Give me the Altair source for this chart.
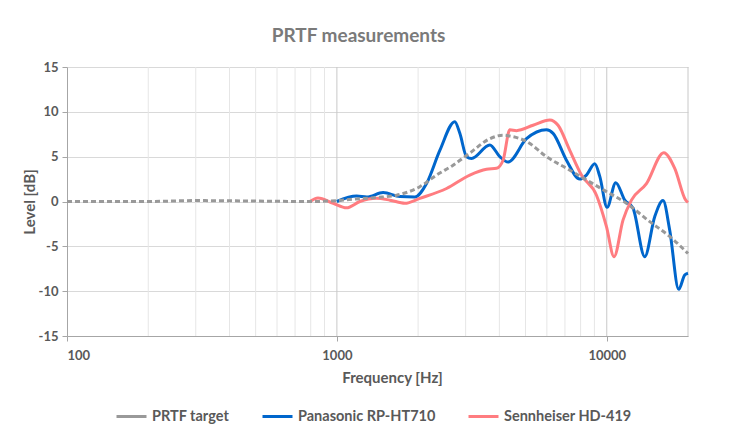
import altair as alt
import pandas as pd

# ---- data ----
target_freq = [100, 200, 300, 500, 800, 1000, 1150, 1400, 1664, 2029, 2341, 2696, 3109, 3687,
               4129, 4373, 5042, 5979, 7091, 8409, 9975, 11830, 14430, 17113, 20000]
target_db = [0.0, 0.0, 0.1, 0.05, 0.0, 0.1, 0.25, 0.45, 0.7, 1.65, 2.95, 4.05, 5.4, 7.0,
             7.4, 7.3, 6.7, 5.0, 3.7, 2.4, 1.1, -0.2, -2.25, -3.9, -5.8]

pana_freq = [1000, 1183, 1291, 1484, 1712, 1945, 2149, 2407, 2735, 2855, 3023, 3155, 3687,
             4015, 4309, 5042, 5979, 6326, 7091, 7943, 8409, 9028, 9421, 10026, 10798,
             11659, 12515, 13828, 15054, 16162, 17113, 18478, 19447, 20000]
pana_db = [0.0, 0.6, 0.5, 1.0, 0.55, 0.5, 2.0, 5.7, 8.9, 7.6, 5.0, 4.8, 6.3,
           5.0, 4.4, 7.0, 8.0, 7.6, 4.6, 2.5, 2.95, 4.2, 2.8, -0.65, 2.1,
           0.15, -0.75, -6.15, -1.7, 0.1, -3.2, -9.8, -8.2, -8.0]

senn_freq = [794, 851, 969, 1086, 1217, 1403, 1572, 1786, 2029, 2549, 3109, 3585, 3904,
             4129, 4373, 4629, 5333, 6150, 6600, 7295, 8058, 9160, 9975, 10641, 11494,
             12346, 14031, 16258, 17859, 19617, 20000]
senn_db = [0.0, 0.4, -0.2, -0.7, 0.0, 0.35, 0.15, -0.2, 0.35, 1.45, 2.95, 3.6, 3.7,
           4.6, 8.0, 7.9, 8.5, 9.1, 8.5, 5.7, 2.95, 0.7, -2.8, -6.15, -2.05,
           0.15, 2.0, 5.45, 3.7, 0.15, -0.1]

series_names = ["PRTF target", "Panasonic RP-HT710", "Sennheiser HD-419"]
series_colors = ["#999999", "#0066CC", "#FF7C80"]

decade_ticks = [100, 1000, 10000]
minor_freq = [200, 300, 400, 500, 600, 700, 800, 900,
              2000, 3000, 4000, 5000, 6000, 7000, 8000, 9000]
y_ticks = [-15, -10, -5, 0, 5, 10, 15]

rows = []
for name, fr, db in [(series_names[0], target_freq, target_db),
                     (series_names[1], pana_freq, pana_db),
                     (series_names[2], senn_freq, senn_db)]:
    for f, d in zip(fr, db):
        rows.append({"series": name, "freq": f, "level": d})
df = pd.DataFrame(rows)

FONT = "Lato"
LABEL_COLOR = "#595959"

xscale = alt.Scale(type="log", domain=[100, 20000], nice=False)
yscale = alt.Scale(domain=[-15, 15], nice=False)
color_scale = alt.Scale(domain=series_names, range=series_colors)

minor_rules = alt.Chart(pd.DataFrame({"freq": minor_freq})).mark_rule(
    color="#e6e6e6", strokeWidth=1
).encode(x=alt.X("freq:Q", scale=xscale))

major_rules = alt.Chart(pd.DataFrame({"freq": decade_ticks[1:] + [20000]})).mark_rule(
    color="#c8c8c8", strokeWidth=1
).encode(x=alt.X("freq:Q", scale=xscale))

def line_layer(name, dash=None):
    kw = dict(strokeWidth=3, interpolate="monotone")
    if dash:
        kw["strokeDash"] = dash
    return alt.Chart(df).transform_filter(
        alt.datum.series == name
    ).mark_line(**kw).encode(
        x=alt.X("freq:Q", scale=xscale,
                axis=alt.Axis(values=decade_ticks, format="d", grid=False,
                              title="Frequency [Hz]", titleX=325)),
        y=alt.Y("level:Q", scale=yscale,
                axis=alt.Axis(values=y_ticks, grid=True, title="Level [dB]",
                              labelExpr="'' + datum.value")),
        color=alt.Color("series:N", scale=color_scale, title=None,
                        legend=alt.Legend(orient="none", legendX=48, legendY=333,
                                          direction="horizontal",
                                          symbolType="stroke", symbolSize=900,
                                          symbolStrokeWidth=3, columnPadding=26,
                                          labelOffset=4,
                                          labelFont=FONT, labelFontSize=14.5,
                                          labelFontWeight="bold",
                                          labelColor=LABEL_COLOR)),
    )

chart = alt.layer(
    minor_rules,
    major_rules,
    line_layer(series_names[1]),
    line_layer(series_names[2]),
    line_layer(series_names[0], dash=[5, 3]),
).properties(
    width=621,
    height=269,
    title=alt.Title("PRTF measurements", font=FONT, fontSize=19, fontWeight="bold",
                    color="#7a7a7a", offset=15, dx=-19),
    autosize=alt.AutoSizeParams(type="none"),
    padding={"left": 59, "top": 59, "right": 34, "bottom": 96},
).configure_view(
    stroke=None
).configure_axis(
    labelFont=FONT, labelFontSize=13, labelFontWeight="bold", labelColor=LABEL_COLOR,
    titleFont=FONT, titleFontSize=15, titleFontWeight="bold", titleColor=LABEL_COLOR,
    domainColor="#a6a6a6", tickColor="#a6a6a6", tickSize=5, gridColor="#d9d9d9",
    labelPadding=4,
).configure_axisX(
    titlePadding=8, labelPadding=8
).configure_axisY(
    titlePadding=1
)

chart.save("out.html", embed_options={"renderer": "svg", "actions": False})
